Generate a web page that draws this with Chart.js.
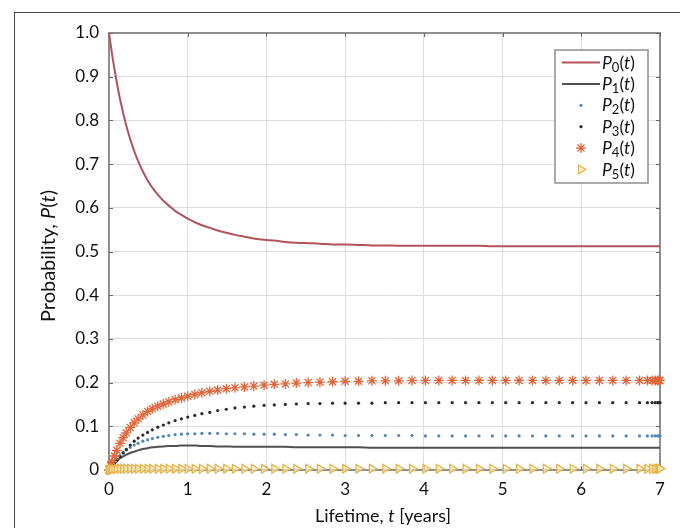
<!DOCTYPE html>
<html><head><meta charset="utf-8">
<script src="https://cdn.jsdelivr.net/npm/chart.js@4.4.0/dist/chart.umd.min.js"></script>
<style>
html,body{margin:0;padding:0;background:#fff;}
#wrap{position:relative;width:680px;height:528px;overflow:hidden;font-family:Lato,'Liberation Sans',sans-serif;color:#111;}
#c{position:absolute;left:0;top:0;}
.frame{position:absolute;left:14px;top:12px;width:700px;height:600px;border-left:1.5px solid #444;border-top:1.5px solid #444;pointer-events:none;}
.ytitle{position:absolute;left:47px;top:256px;transform:translate(-50%,-50%) rotate(-90deg);white-space:nowrap;font-size:20px;}
.xtitle{position:absolute;left:383px;top:515px;transform:translate(-50%,-50%);white-space:nowrap;font-size:18px;}
.lg{position:absolute;font-size:17.5px;line-height:18px;height:18px;transform:translateY(-50%);white-space:nowrap;}
.lg sub{font-size:13px;vertical-align:baseline;position:relative;top:3px;}
</style>
</head><body>
<div id="wrap">
<canvas id="c" width="680" height="528"></canvas>
<div class="frame"></div>
<div class="ytitle">Probability, <i>P</i>(<i>t</i>)</div>
<div class="xtitle">Lifetime, <i>t</i> [years]</div>
<div id="lgtext"></div>
</div>
<script>
const tYears = [0,0.02,0.04,0.07,0.10,0.14,0.18,0.22,0.27,0.32,
 0.37,0.43,0.49,0.55,0.62,0.69,0.76,0.84,0.92,1.00,
 1.09,1.18,1.28,1.38,1.49,1.60,1.72,1.84,1.97,2.10,
 2.24,2.38,2.53,2.68,2.84,3.00,3.17,3.34,3.51,3.68,
 3.85,4.02,4.19,4.36,4.53,4.70,4.87,5.04,5.21,5.38,
 5.55,5.72,5.89,6.06,6.23,6.40,6.57,6.74,6.84,6.90,
 6.94,6.97,6.99,7.00];
const p0 = [1.000,0.975,0.950,0.917,0.886,0.849,0.817,0.788,0.757,0.730,
 0.707,0.683,0.663,0.646,0.630,0.616,0.605,0.593,0.584,0.575,
 0.567,0.560,0.554,0.548,0.543,0.538,0.534,0.530,0.527,0.525,
 0.522,0.520,0.519,0.518,0.516,0.516,0.515,0.514,0.514,0.513,
 0.513,0.513,0.513,0.513,0.513,0.513,0.512,0.512,0.512,0.512,
 0.512,0.512,0.512,0.512,0.512,0.512,0.512,0.512,0.512,0.512,
 0.512,0.512,0.512,0.512];
const p1 = [0.000,0.005,0.009,0.015,0.021,0.027,0.031,0.035,0.039,0.042,
 0.045,0.048,0.050,0.052,0.053,0.054,0.055,0.055,0.056,0.056,
 0.056,0.055,0.055,0.054,0.054,0.053,0.053,0.053,0.053,0.053,
 0.053,0.052,0.052,0.052,0.052,0.052,0.052,0.051,0.051,0.051,
 0.051,0.051,0.051,0.051,0.051,0.051,0.051,0.051,0.051,0.051,
 0.051,0.051,0.051,0.051,0.051,0.051,0.051,0.051,0.051,0.051,
 0.051,0.051,0.051,0.051];
const p2 = [0.000,0.006,0.011,0.018,0.025,0.033,0.040,0.046,0.052,0.057,
 0.061,0.066,0.069,0.072,0.075,0.077,0.079,0.081,0.082,0.083,
 0.083,0.084,0.084,0.084,0.083,0.083,0.083,0.082,0.082,0.082,
 0.081,0.081,0.080,0.080,0.080,0.079,0.079,0.079,0.079,0.079,
 0.079,0.078,0.078,0.078,0.078,0.078,0.078,0.078,0.078,0.078,
 0.078,0.078,0.078,0.078,0.078,0.078,0.078,0.078,0.078,0.078,
 0.078,0.078,0.078,0.078];
const p3 = [0.000,0.004,0.008,0.014,0.021,0.030,0.039,0.047,0.057,0.066,
 0.073,0.080,0.086,0.092,0.098,0.103,0.108,0.113,0.117,0.121,
 0.125,0.129,0.132,0.136,0.139,0.142,0.144,0.146,0.148,0.149,
 0.150,0.151,0.152,0.152,0.153,0.153,0.153,0.153,0.154,0.154,
 0.154,0.154,0.154,0.154,0.154,0.154,0.154,0.154,0.154,0.154,
 0.154,0.154,0.154,0.154,0.154,0.154,0.154,0.154,0.154,0.154,
 0.154,0.154,0.154,0.154];
const p4 = [0.000,0.010,0.019,0.032,0.045,0.061,0.074,0.085,0.097,0.108,
 0.117,0.126,0.134,0.140,0.146,0.151,0.156,0.161,0.165,0.169,
 0.173,0.177,0.180,0.183,0.186,0.188,0.190,0.192,0.194,0.196,
 0.197,0.199,0.200,0.201,0.202,0.203,0.203,0.204,0.204,0.204,
 0.205,0.205,0.205,0.205,0.205,0.205,0.205,0.205,0.205,0.205,
 0.205,0.205,0.205,0.205,0.205,0.205,0.205,0.205,0.205,0.205,
 0.205,0.205,0.205,0.205];
const p5 = [0.000,0.001,0.002,0.002,0.003,0.003,0.003,0.003,0.003,0.003,
 0.003,0.003,0.003,0.003,0.003,0.003,0.003,0.003,0.003,0.003,
 0.003,0.003,0.003,0.003,0.003,0.003,0.003,0.003,0.003,0.003,
 0.003,0.003,0.003,0.003,0.003,0.003,0.003,0.003,0.003,0.003,
 0.003,0.003,0.003,0.003,0.003,0.003,0.003,0.003,0.003,0.003,
 0.003,0.003,0.003,0.003,0.003,0.003,0.003,0.003,0.003,0.003,
 0.003,0.003,0.003,0.003];
const xTickLabels = ['0','1','2','3','4','5','6','7'];
const yTickLabels = ['0','0.1','0.2','0.3','0.4','0.5','0.6','0.7','0.8','0.9','1.0'];
const seriesSub = ['0','1','2','3','4','5'];

function pts(ys){ return tYears.map((t,i)=>({x:t,y:ys[i]})); }

const colP0='#b3525c', colP1='#505050', colP2='#4f86b5', colP3='#2b2b2b', colP4='#e0663a', colP5='#e6b44a';

const datasets = [
 {label:'P0(t)', data:pts(p0), showLine:true, borderColor:colP0, backgroundColor:colP0, borderWidth:2, pointRadius:0, cubicInterpolationMode:'monotone', order:6, clip:false},
 {label:'P1(t)', data:pts(p1), showLine:true, borderColor:colP1, backgroundColor:colP1, borderWidth:2, pointRadius:0, cubicInterpolationMode:'monotone', order:5, clip:false},
 {label:'P2(t)', data:pts(p2), showLine:false, pointStyle:'circle', pointRadius:1.6, backgroundColor:colP2, borderColor:colP2, borderWidth:0, order:4, clip:false},
 {label:'P3(t)', data:pts(p3), showLine:false, pointStyle:'circle', pointRadius:1.6, backgroundColor:colP3, borderColor:colP3, borderWidth:0, order:3, clip:false},
 {label:'P4(t)', data:pts(p4), showLine:false, pointStyle:'star', pointRadius:5, backgroundColor:colP4, borderColor:colP4, borderWidth:1.3, order:2, clip:false},
 {label:'P5(t)', data:pts(p5), showLine:false, pointStyle:'triangle', rotation:90, pointRadius:5, backgroundColor:'rgba(252,238,200,0.7)', borderColor:colP5, borderWidth:1.3, order:1, clip:false}
];

const framePlugin = {
 id:'framePlugin',
 beforeDatasetsDraw(chart){
  const a = chart.chartArea, ctx = chart.ctx;
  ctx.save();
  ctx.strokeStyle = '#8f8f8f'; ctx.lineWidth = 2;
  ctx.strokeRect(a.left, a.top, a.right-a.left, a.bottom-a.top);
  ctx.strokeStyle = '#666'; ctx.lineWidth = 1;
  const xs = chart.scales.x, ys = chart.scales.y;
  ctx.beginPath();
  xs.ticks.forEach(t=>{ const px = Math.round(xs.getPixelForValue(t.value))+0.5;
    ctx.moveTo(px,a.top); ctx.lineTo(px,a.top+4); ctx.moveTo(px,a.bottom); ctx.lineTo(px,a.bottom-4); });
  ys.ticks.forEach(t=>{ const py = Math.round(ys.getPixelForValue(t.value))+0.5;
    ctx.moveTo(a.left,py); ctx.lineTo(a.left+4,py); ctx.moveTo(a.right,py); ctx.lineTo(a.right-4,py); });
  ctx.stroke();
  ctx.restore();
 }
};

const legendPlugin = {
 id:'legendPlugin',
 afterDraw(chart){
  const a = chart.chartArea, ctx = chart.ctx;
  const bx = a.right-105, by = a.top+17, bw = 93, bh = 133;
  ctx.save();
  ctx.fillStyle = '#fff'; ctx.fillRect(bx,by,bw,bh);
  ctx.strokeStyle = '#8f8f8f'; ctx.lineWidth = 1.5; ctx.strokeRect(bx,by,bw,bh);
  const html = [];
  datasets.forEach((ds,i)=>{
   const y = by + 12.5 + i*21.4;
   if (ds.showLine){
     ctx.strokeStyle = ds.borderColor; ctx.lineWidth = 2;
     ctx.beginPath(); ctx.moveTo(bx+7,y); ctx.lineTo(bx+45,y); ctx.stroke();
   } else {
     ctx.fillStyle = ds.backgroundColor; ctx.strokeStyle = ds.borderColor; ctx.lineWidth = ds.borderWidth;
     Chart.helpers.drawPoint(ctx, {pointStyle:ds.pointStyle, rotation:ds.rotation||0, radius:ds.pointRadius, borderWidth:ds.borderWidth}, bx+26, y);
   }
   html.push('<div class="lg" style="top:'+y+'px;left:'+(bx+47)+'px"><i>P</i><sub>'+seriesSub[i]+'</sub>(<i>t</i>)</div>');
  });
  ctx.restore();
  const el = document.getElementById('lgtext');
  if (!el.innerHTML) el.innerHTML = html.join('');
 }
};

new Chart(document.getElementById('c').getContext('2d'), {
 type:'scatter',
 data:{datasets},
 options:{
  responsive:false, animation:false, devicePixelRatio:1,
  layout:{padding:{left:49,right:20,top:33,bottom:0}},
  plugins:{legend:{display:false}, tooltip:{enabled:false}},
  scales:{
   x:{type:'linear', min:0, max:7,
      afterFit(s){ s.height = 58; },
      ticks:{stepSize:1, padding:9, color:'#111', font:{family:'Lato', size:17},
        callback:(v)=> xTickLabels[Math.round(v)] },
      grid:{color:'#dedede', lineWidth:1, drawTicks:false},
      border:{display:false}},
   y:{type:'linear', min:0, max:1,
      afterFit(s){ s.width = 60; },
      ticks:{stepSize:0.1, padding:10, color:'#111', font:{family:'Lato', size:17},
        callback:(v)=> yTickLabels[Math.round(v*10)] },
      grid:{color:'#dedede', lineWidth:1, drawTicks:false},
      border:{display:false}}
  }
 },
 plugins:[framePlugin, legendPlugin]
});
</script>
</body></html>
